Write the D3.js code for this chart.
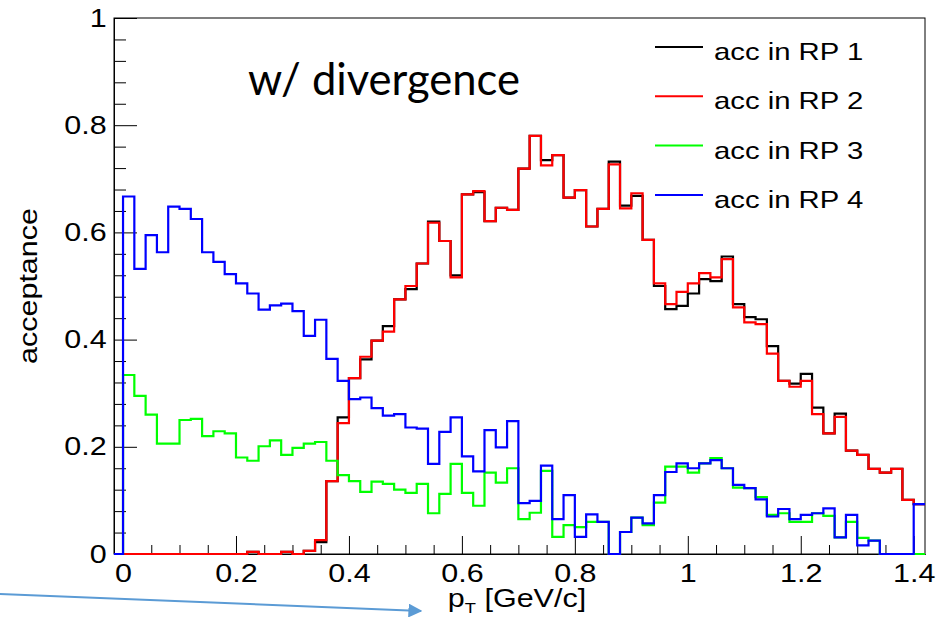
<!DOCTYPE html>
<meta charset="utf-8">
<script src="https://d3js.org/d3.v7.min.js"></script>
<style>
  * {margin: 0; padding: 0;}
  body {background: #fff;}
  .axis path, .axis line {stroke: #000; stroke-width: 1px;}
  .axis text {font-family: "Liberation Sans", Arial, sans-serif; font-size: 25px; fill: #000;}
  .rt {font-family: "Liberation Sans", Arial, sans-serif; fill: #000;}
</style>
<body>
<div id="chart"></div>
<script>

// histogram binning: 71 bins of 0.02 starting at pT = 0
var binWidth = 0.02;
var xMajor = [0, 0.2, 0.4, 0.6, 0.8, 1, 1.2, 1.4];
var yMajor = [0, 0.2, 0.4, 0.6, 0.8, 1];

var rp1 = [0,0,0,0,0,0,0,0,0,0, 0,0.004,0,0,0.004,0,0.006,0.022,0.136,0.255,
  0.328,0.363,0.398,0.425,0.475,0.494,0.542,0.620,0.584,0.520,
  0.671,0.675,0.621,0.646,0.642,0.719,0.780,0.735,0.744,0.665,
  0.679,0.611,0.644,0.732,0.650,0.668,0.586,0.500,0.457,0.463,
  0.486,0.513,0.509,0.555,0.466,0.442,0.438,0.388,0.323,0.318,
  0.336,0.273,0.225,0.262,0.193,0.185,0.159,0.152,0.159,0.101,0.093];

var rp2 = [0,0,0,0,0,0,0,0,0,0, 0,0.004,0,0,0.004,0,0.006,0.026,0.136,0.244,
  0.328,0.368,0.398,0.415,0.475,0.500,0.542,0.618,0.584,0.516,
  0.671,0.677,0.621,0.646,0.642,0.719,0.780,0.725,0.744,0.665,
  0.679,0.611,0.644,0.727,0.645,0.673,0.586,0.505,0.466,0.489,
  0.505,0.524,0.516,0.550,0.460,0.432,0.429,0.374,0.323,0.312,
  0.323,0.261,0.225,0.256,0.193,0.185,0.159,0.152,0.159,0.101,0.093];

var rp3 = [0.334,0.295,0.260,0.206,0.206,0.250,0.252,0.220,0.229,0.225,
  0.180,0.174,0.201,0.212,0.185,0.198,0.206,0.209,0.174,0.147,
  0.136,0.116,0.135,0.131,0.120,0.114,0.131,0.076,0.112,0.168,
  0.114,0.090,0.152,0.133,0.160,0.065,0.077,0.155,0.032,0.054,
  0.050,0.060,0.060,0,0.041,0.068,0.054,0.096,0.163,0.163,
  0.152,0.169,0.179,0.160,0.124,0.123,0.106,0.073,0.076,0.060,
  0.060,0.076,0.071,0.031,0.060,0.030,0.025,0,0,0,0];

var rp4 = [0.667,0.532,0.595,0.563,0.648,0.644,0.625,0.563,0.545,0.522,
  0.505,0.486,0.456,0.464,0.467,0.453,0.407,0.437,0.364,0.323,
  0.289,0.292,0.272,0.258,0.261,0.236,0.234,0.168,0.228,0.255,
  0.182,0.154,0.231,0.199,0.248,0.095,0.099,0.165,0.065,0.110,
  0.032,0.074,0.060,0,0.041,0.068,0.057,0.110,0.153,0.169,
  0.160,0.169,0.175,0.160,0.129,0.123,0.102,0.070,0.084,0.065,
  0.073,0.076,0.085,0.031,0.073,0.016,0.025,0,0,0,0.093];

var names = ["acc in RP 1", "acc in RP 2", "acc in RP 3", "acc in RP 4"];
var colors = ["#000000", "#ff0000", "#00ff00", "#0000ff"];
var series = [rp1, rp2, rp3, rp4];

var W = 939, H = 626;
var margin = {left: 114, right: 925, top: 18, bottom: 554};
var stretch = 1.22;   // ROOT text is wider than Liberation Sans

var svg = d3.select("#chart").append("svg")
    .attr("width", W)
    .attr("height", H);

var x = d3.scaleLinear().domain([-0.016, 1.42]).range([margin.left, margin.right]);
var y = d3.scaleLinear().domain([0, 1]).range([margin.bottom, margin.top]);

// minor ticks
var xMinor = d3.range(0, 1.42, 0.05).filter(function(v) { return Math.abs(v / 0.2 - Math.round(v / 0.2)) > 1e-6; });
var yMinor = d3.range(0, 1.0001, 0.04).filter(function(v) { return Math.abs(v / 0.2 - Math.round(v / 0.2)) > 1e-6; });

svg.append("g").attr("class", "axis")
  .attr("transform", "translate(0," + margin.bottom + ")")
  .call(d3.axisBottom(x).tickValues(xMinor).tickSize(-9).tickSizeOuter(0).tickFormat(""));
svg.append("g").attr("class", "axis")
  .attr("transform", "translate(" + margin.left + ",0)")
  .call(d3.axisLeft(y).tickValues(yMinor).tickSize(-12).tickSizeOuter(0).tickFormat(""));

var xAxis = svg.append("g").attr("class", "axis")
  .attr("transform", "translate(0," + margin.bottom + ")")
  .call(d3.axisBottom(x).tickValues(xMajor).tickSize(-18).tickSizeOuter(0).tickPadding(10)
    .tickFormat(function(d) { return d3.format("")(d); }));
xAxis.selectAll("text").attr("transform", "scale(" + stretch + ",1)");

var yAxis = svg.append("g").attr("class", "axis")
  .attr("transform", "translate(" + margin.left + ",0)")
  .call(d3.axisLeft(y).tickValues(yMajor).tickSize(-23).tickSizeOuter(0).tickPadding(6)
    .tickFormat(function(d) { return d3.format("")(d); }));
yAxis.selectAll("text").attr("transform", "scale(" + stretch + ",1)");

// frame
svg.append("rect")
  .attr("x", margin.left).attr("y", margin.top)
  .attr("width", margin.right - margin.left).attr("height", margin.bottom - margin.top)
  .attr("fill", "none").attr("stroke", "#000").attr("stroke-width", 1);

svg.append("clipPath").attr("id", "plotclip")
  .append("rect")
  .attr("x", margin.left).attr("y", margin.top - 2)
  .attr("width", margin.right - margin.left).attr("height", margin.bottom - margin.top + 4);

var line = d3.line()
  .x(function(d) { return x(d[0]); })
  .y(function(d) { return y(d[1]); })
  .curve(d3.curveStepAfter);

series.forEach(function(vals, k) {
  var pts = [[x.domain()[0], 0]];
  vals.forEach(function(v, i) { pts.push([i * binWidth, v]); });
  pts.push([vals.length * binWidth, vals[vals.length - 1]]);
  svg.append("path")
    .datum(pts)
    .attr("clip-path", "url(#plotclip)")
    .attr("d", line)
    .attr("fill", "none")
    .attr("stroke", colors[k])
    .attr("stroke-width", 2.2);
});

// legend
var legend = svg.append("g");
names.forEach(function(n, k) {
  var ly = 47 + k * 49.3;
  legend.append("line")
    .attr("x1", 655).attr("x2", 703)
    .attr("y1", ly).attr("y2", ly)
    .attr("stroke", colors[k]).attr("stroke-width", 2);
  legend.append("text").attr("class", "rt")
    .attr("transform", "translate(714," + (ly + 13) + ") scale(" + stretch + ",1)")
    .style("font-size", "24px")
    .text(n);
});

// axis titles
var xt = svg.append("text").attr("class", "rt")
  .attr("transform", "translate(517,607) scale(" + stretch + ",1)")
  .attr("text-anchor", "middle")
  .style("font-size", "25px");
xt.append("tspan").text("p");
xt.append("tspan").attr("dy", 6).style("font-size", "15px").text("T");
xt.append("tspan").attr("dy", -6).text(" [GeV/c]");

svg.append("text").attr("class", "rt")
  .attr("transform", "translate(37,286) rotate(-90) scale(" + stretch + ",1)")
  .attr("text-anchor", "middle")
  .style("font-size", "25px")
  .text("acceptance");

// annotation
svg.append("text")
  .attr("x", 248).attr("y", 95)
  .attr("textLength", 272)
  .attr("lengthAdjust", "spacingAndGlyphs")
  .style("font-family", "Lato, 'Open Sans', sans-serif")
  .style("font-size", "44px")
  .style("fill", "#000")
  .text("w/ divergence");

// arrow pointing at the x-axis title
svg.append("defs").append("marker")
  .attr("id", "head")
  .attr("viewBox", "0 0 10 10")
  .attr("refX", 9).attr("refY", 5)
  .attr("markerWidth", 7).attr("markerHeight", 7)
  .attr("markerUnits", "strokeWidth")
  .attr("orient", "auto")
  .append("path").attr("d", "M0,0 L10,5 L0,10 z").attr("fill", "#5b9bd5");

svg.append("line")
  .attr("x1", -2).attr("y1", 594)
  .attr("x2", 421).attr("y2", 611)
  .attr("stroke", "#5b9bd5").attr("stroke-width", 2)
  .attr("marker-end", "url(#head)");

</script>
</body>
